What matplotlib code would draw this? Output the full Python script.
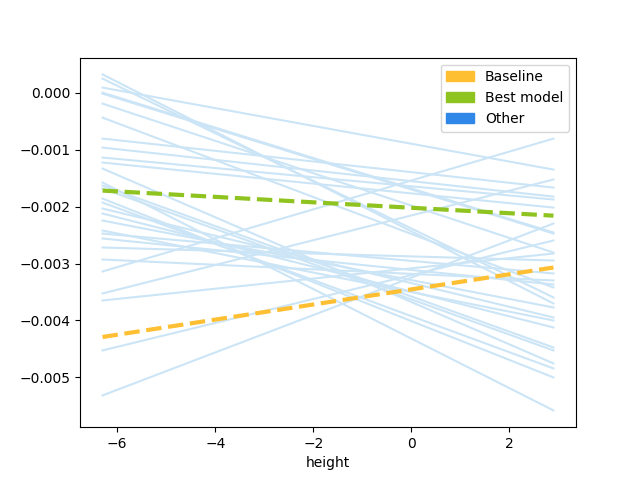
import matplotlib
matplotlib.use('Agg')
import matplotlib.pyplot as plt
import matplotlib.patches as mpatches
import numpy as np

# x span of every line
x_range = [-6.3, 2.9]

# other models: (start, end) values in units of 1e-3
other_start = [0.320, 0.246, 0.088, 0.000, -0.018, -0.193, -0.439, -0.807, -0.965, -1.140,
               -1.228, -1.333, -1.579, -1.632, -1.684, -1.860, -1.930, -2.035, -2.123, -2.246,
               -2.421, -2.474, -2.561, -2.719, -2.930, -3.140, -3.526, -3.649, -4.526, -5.316]
other_end = [-3.702, -3.596, -1.351, -2.456, -2.474, -2.807, -3.421, -1.667, -1.825, -1.877,
             -2.018, -4.754, -5.579, -4.474, -4.526, -5.000, -4.842, -3.947, -4.123, -3.772,
             -4.000, -3.175, -3.368, -2.947, -3.298, -0.807, -1.526, -2.825, -2.596, -2.298]

baseline = [-4.29, -3.07]
best_model = [-1.72, -2.16]

fig, ax = plt.subplots(figsize=(6.4, 4.8), dpi=100)

for s, e in zip(other_start, other_end):
    ax.plot(x_range, [s / 1000, e / 1000], color='#cce5f6', lw=1.5)

ax.plot(x_range, np.array(best_model) / 1000, color='#8fc31f', lw=3, ls='--')
ax.plot(x_range, np.array(baseline) / 1000, color='#ffbf33', lw=3, ls='--')

ax.set_xlabel('height')

handles = [mpatches.Patch(color='#ffbf33', label='Baseline'),
           mpatches.Patch(color='#8fc31f', label='Best model'),
           mpatches.Patch(color='#2f87e8', label='Other')]
ax.legend(handles=handles, loc='upper right')

fig.savefig('out.png')
